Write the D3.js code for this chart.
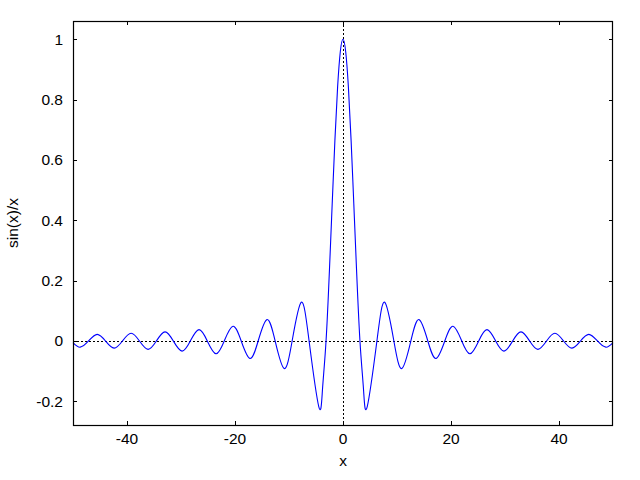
<!DOCTYPE html>
<html><head><meta charset="utf-8">
<script src="https://cdn.jsdelivr.net/npm/d3@7"></script>
<style>body{margin:0;background:#fff}text{font-family:"Liberation Sans",Arial,sans-serif;}</style>
</head><body>
<svg id="c" width="640" height="480"></svg>
<script>
const xTicks = [-40, -20, 0, 20, 40];
const xTickLabels = ["-40", "-20", "0", "20", "40"];
const yTicks = [-0.2, 0, 0.2, 0.4, 0.6, 0.8, 1];
const yTickLabels = ["-0.2", "0", "0.2", "0.4", "0.6", "0.8", "1"];
const xs = [-50, -48.67, -47.12, -45.53, -43.98, -42.39, -40.84, -39.24, -37.70, -36.10, -34.56, -32.96, -31.42, -29.81, -28.27, -26.67, -25.13, -23.52, -21.99, -20.37, -18.85, -17.22, -15.71, -14.07, -12.57, -10.90, -9.42, -7.73, -6.28, -4.49, -3.8, -3.14, -2.5, -2, -1.5, -1, -0.5, 0,
  0.5, 1, 1.5, 2, 2.5, 3.14, 3.8, 4.49, 6.28, 7.73, 9.42, 10.90, 12.57, 14.07, 15.71, 17.22, 18.85, 20.37, 21.99, 23.52, 25.13, 26.67, 28.27, 29.81, 31.42, 32.96, 34.56, 36.10, 37.70, 39.24, 40.84, 42.39, 43.98, 45.53, 47.12, 48.67, 50];
const ys = [-0.0052, -0.0205, 0, 0.0220, 0, -0.0236, 0, 0.0255, 0, -0.0277, 0, 0.0303, 0, -0.0335, 0, 0.0375, 0, -0.0425, 0, 0.0490, 0, -0.0580, 0, 0.0709, 0, -0.0913, 0, 0.1284, 0, -0.2172, -0.161, 0, 0.2394, 0.4546, 0.665, 0.8415, 0.9589, 1,
  0.9589, 0.8415, 0.665, 0.4546, 0.2394, 0, -0.161, -0.2172, 0, 0.1284, 0, -0.0913, 0, 0.0709, 0, -0.0580, 0, 0.0490, 0, -0.0425, 0, 0.0375, 0, -0.0335, 0, 0.0303, 0, -0.0277, 0, 0.0255, 0, -0.0236, 0, 0.0220, 0, -0.0205, -0.0052];

const L = 73, R = 613, T = 21, B = 425;
const x = d3.scaleLinear().domain([-50, 50]).range([L, R]);
const y = d3.scaleLinear().domain([-0.2785, 1.0607]).range([B, T]);
const svg = d3.select("#c");
const fs = "15.5px";

// zero axes dotted
svg.append("line").attr("x1", L).attr("x2", R).attr("y1", Math.round(y(0)) + 0.5).attr("y2", Math.round(y(0)) + 0.5)
  .attr("stroke", "#000").attr("stroke-width", 1).attr("stroke-dasharray", "2,2");
svg.append("line").attr("y1", T).attr("y2", B).attr("x1", Math.round(x(0)) + 0.5).attr("x2", Math.round(x(0)) + 0.5)
  .attr("stroke", "#000").attr("stroke-width", 1).attr("stroke-dasharray", "2,2");

// curve
const data = xs.map((v, i) => [v, ys[i]]);
svg.append("path").datum(data)
  .attr("d", d3.line().x(d => x(d[0])).y(d => y(d[1])).curve(d3.curveNatural))
  .attr("fill", "none").attr("stroke", "#0000ff").attr("stroke-width", 1.1);

// ticks
const tl = 4;
const g = svg.append("g").attr("stroke", "#000").attr("stroke-width", 1);
xTicks.forEach(t => {
  const px = Math.round(x(t)) + 0.5;
  g.append("line").attr("x1", px).attr("x2", px).attr("y1", B).attr("y2", B - tl);
  g.append("line").attr("x1", px).attr("x2", px).attr("y1", T).attr("y2", T + tl);
});
yTicks.forEach(t => {
  const py = Math.round(y(t)) + 0.5;
  g.append("line").attr("x1", L).attr("x2", L + tl).attr("y1", py).attr("y2", py);
  g.append("line").attr("x1", R).attr("x2", R - tl).attr("y1", py).attr("y2", py);
});
// frame
svg.append("rect").attr("x", L + 0.5).attr("y", T + 0.5).attr("width", R - L - 1).attr("height", B - T)
  .attr("fill", "none").attr("stroke", "#000").attr("stroke-width", 1.2);

// labels
xTicks.forEach((t, i) => {
  svg.append("text").attr("x", x(t)).attr("y", 444).attr("text-anchor", "middle")
    .attr("font-size", fs).attr("fill", "#000").text(xTickLabels[i]);
});
yTicks.forEach((t, i) => {
  svg.append("text").attr("x", 63).attr("y", y(t) + 5.5).attr("text-anchor", "end")
    .attr("font-size", fs).attr("fill", "#000").text(yTickLabels[i]);
});
svg.append("text").attr("x", x(0)).attr("y", 466).attr("text-anchor", "middle")
  .attr("font-size", fs).text("x");
svg.append("text").attr("transform", "translate(18," + ((T + B) / 2) + ") rotate(-90)")
  .attr("text-anchor", "middle").attr("font-size", fs).text("sin(x)/x");
</script>
</body></html>
